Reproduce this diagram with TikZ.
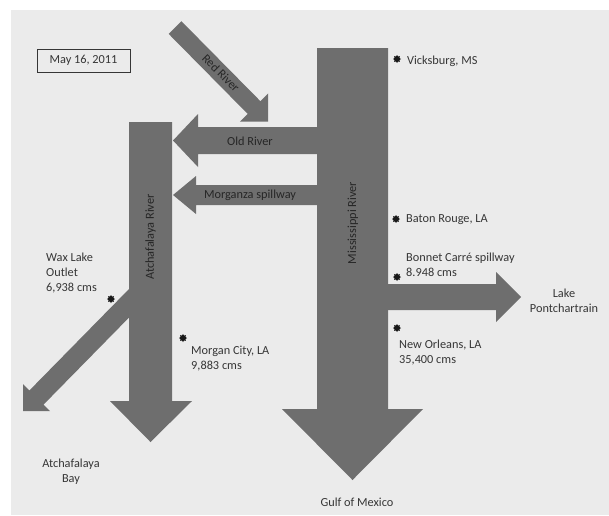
\documentclass[tikz,border=0pt]{standalone}
\usepackage{fontspec}
\usetikzlibrary{shapes.geometric}
\setmainfont{Carlito}
\definecolor{paper}{HTML}{EBEBEB}
\definecolor{flow}{HTML}{6E6E6E}
\definecolor{ink}{HTML}{363636}
\definecolor{inkdark}{HTML}{262626}
\begin{document}
\begin{tikzpicture}[x=1pt,y=-1pt,
  river/.style={fill=flow,draw=none},
  lbl/.style={inner sep=0pt,text=ink,font=\fontsize{12.3}{15}\selectfont,align=left},
  lblc/.style={inner sep=0pt,text=ink,font=\fontsize{12.3}{15}\selectfont,align=center},
  inlbl/.style={inner sep=0pt,text=inkdark,font=\fontsize{12.3}{15}\selectfont},
  town/.style={star,star points=8,star point ratio=1.5,fill=black!90,inner sep=0pt,minimum size=8pt}]
\useasboundingbox (0,0) rectangle (609,515);
\fill[white] (0,0) rectangle (609,515);
\fill[paper] (11,10) rectangle (609,515);
% Date box
\draw[ink,line width=0.9pt] (37,49) rectangle (130,72);
\node[lblc] (date) at (83.5,60.5) {May 16, 2011};
% Mississippi River
\fill[river] (317,48) -- (388,48) -- (388,409) -- (423,409) -- (352.5,480) -- (282,409) -- (317,409) -- cycle;
% Old River
\fill[river] (320,127) -- (198,127) -- (198,114) -- (173,140.5) -- (198,167) -- (198,154) -- (320,154) -- cycle;
% Morganza spillway
\fill[river] (320,185) -- (196,185) -- (196,176) -- (173,195) -- (196,214) -- (196,205) -- (320,205) -- cycle;
% Bonnet Carre spillway
\fill[river] (385,284) -- (496,284) -- (496,272) -- (521,297) -- (496,322) -- (496,310) -- (385,310) -- cycle;
% Atchafalaya River
\fill[river] (129,122) -- (172,122) -- (172,401) -- (192,401) -- (150.5,442) -- (110,401) -- (129,401) -- cycle;
% Wax Lake Outlet
\fill[river] (137.93,279.93) -- (29.43,390.43) -- (23,384) -- (23,411) -- (50,411) -- (43.57,404.57) -- (152.07,294.07) -- cycle;
% Red River
\fill[river] (168.64,33.86) -- (181.36,21.14) -- (260.36,101.14) -- (268.2,93.3) -- (268.2,121.7) -- (239.8,121.7) -- (247.64,113.86) -- cycle;
% labels on arrows
\node[inlbl,rotate=90] (miss) at (353,223) {Mississippi River};
\node[inlbl,rotate=90] (atch) at (150.5,237) {Atchafalaya River};
\node[inlbl] (old) at (250,141) {Old River};
\node[inlbl] (morg) at (250,195.5) {Morganza spillway};
\node[inlbl,rotate=-45] (red) at (221,73) {Red River};
% towns
\node[town] (vick) at (397,59) {};
\node[town] (baton) at (396,219) {};
\node[town] (bonnet) at (397,277) {};
\node[town] (neworl) at (397,328) {};
\node[town] (morgan) at (183,338) {};
\node[town] (wax) at (111,299) {};
% texts
\node[lbl,anchor=west] (vickt) at (407,61) {Vicksburg, MS};
\node[lbl,anchor=west] (batont) at (406,220) {Baton Rouge, LA};
\node[lbl,anchor=west] (bonnett) at (406,264.5) {Bonnet Carré spillway\\8.948 cms};
\node[lbl,anchor=west] (neworlt) at (399,352.5) {New Orleans, LA\\35,400 cms};
\node[lbl,anchor=west] (morgant) at (191,358.5) {Morgan City, LA\\9,883 cms};
\node[lbl,anchor=west] (waxt) at (46,273) {Wax Lake\\Outlet\\6,938 cms};
\node[lblc] (lake) at (564,300.5) {Lake\\Pontchartrain};
\node[lblc] (bay) at (71,472) {Atchafalaya\\Bay};
\node[lblc] (gulf) at (357,502) {Gulf of Mexico};
\end{tikzpicture}
\end{document}
